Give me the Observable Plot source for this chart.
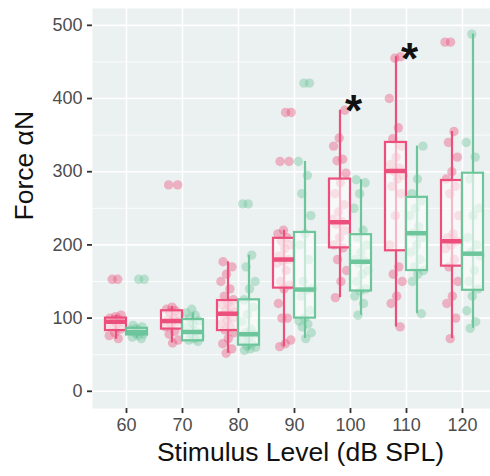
<!DOCTYPE html>
<html><head><meta charset="utf-8">
<script src="https://cdn.jsdelivr.net/npm/d3@7"></script>
<script src="https://cdn.jsdelivr.net/npm/@observablehq/plot@0.6"></script>
<style>body{margin:0;background:#fff;font-family:"Liberation Sans",Arial,sans-serif}</style>
</head><body><div id="chart"></div><script>
const levels = [60, 70, 80, 90, 100, 110, 120];
const yTicks = [0, 100, 200, 300, 400, 500];
const yMinor = [50, 150, 250, 350, 450];
const groupColors = ["#EC4F7B", "#6CC59B"];

// box statistics (group A = pink, group B = green)
const pinkLo  = [71, 66, 52, 61, 128, 88, 72];
const pinkQ1  = [83, 85, 83, 141, 196, 192, 171];
const pinkMed = [95, 96, 106, 180, 231, 301, 205];
const pinkQ3  = [100, 110, 124, 209, 290, 340, 288];
const pinkHi  = [104, 116, 177, 220, 384, 457, 355];

const greenLo  = [72, 69, 56, 72, 104, 106, 86];
const greenQ1  = [77, 69, 63, 100, 137, 165, 138];
const greenMed = [81, 81, 78, 139, 177, 216, 188];
const greenQ3  = [86, 98, 125, 217, 214, 265, 298];
const greenHi  = [89, 107, 186, 314, 289, 335, 488];

// observed points
const pinkPoints = [
  [153, 153, 104, 102, 100, 98, 97, 95, 92, 90, 85, 80, 76, 72],
  [282, 282, 115, 112, 110, 108, 105, 100, 98, 95, 92, 88, 82, 78, 70, 66],
  [177, 170, 160, 150, 140, 130, 125, 120, 118, 115, 110, 108, 106, 104, 100, 96, 92, 88, 84, 80, 72, 65, 58, 52],
  [381, 381, 314, 314, 220, 215, 210, 205, 200, 195, 185, 180, 178, 175, 165, 150, 145, 140, 120, 100, 100, 70, 65, 61],
  [384, 346, 335, 317, 315, 298, 285, 270, 255, 245, 235, 232, 228, 220, 210, 200, 196, 180, 165, 150, 128],
  [457, 455, 400, 360, 345, 335, 320, 310, 305, 300, 295, 290, 280, 270, 240, 200, 170, 160, 150, 130, 120, 88],
  [477, 477, 355, 340, 320, 300, 290, 280, 270, 240, 215, 210, 205, 200, 195, 180, 170, 150, 130, 120, 100, 72]
];
const greenPoints = [
  [153, 153, 90, 88, 86, 84, 82, 80, 78, 76, 74, 72],
  [112, 107, 104, 100, 96, 92, 88, 82, 78, 75, 72, 70, 68],
  [256, 256, 186, 170, 150, 140, 125, 115, 105, 95, 85, 80, 78, 75, 70, 65, 62, 60, 58, 56],
  [421, 421, 314, 295, 270, 240, 215, 200, 180, 150, 140, 138, 130, 110, 100, 96, 92, 88, 80, 72],
  [289, 285, 270, 250, 220, 210, 200, 190, 180, 178, 175, 165, 160, 150, 140, 137, 130, 120, 104],
  [335, 290, 270, 260, 250, 240, 225, 216, 210, 200, 190, 180, 170, 165, 160, 150, 106],
  [488, 340, 320, 290, 250, 240, 210, 200, 190, 185, 165, 150, 140, 130, 110, 95, 86]
];

const starLevels = [100, 110];
const starValues = [382, 453];

// build tables
const dodge = 0.1875, half = 0.1875;
const boxes = [];
levels.forEach((lv, i) => {
  boxes.push({idx: i + 1, g: 0, lo: pinkLo[i], q1: pinkQ1[i], med: pinkMed[i], q3: pinkQ3[i], hi: pinkHi[i]});
  boxes.push({idx: i + 1, g: 1, lo: greenLo[i], q1: greenQ1[i], med: greenMed[i], q3: greenQ3[i], hi: greenHi[i]});
});
boxes.forEach(b => { b.cx = b.idx + (b.g === 0 ? -dodge : dodge); });
const pts = [];
let k = 0;
[pinkPoints, greenPoints].forEach((set, g) => {
  set.forEach((vals, i) => {
    vals.forEach(v => {
      k++;
      const jit = (((k * 0.6180339) % 1) - 0.5) * 0.26;
      pts.push({x: i + 1 + (g === 0 ? -dodge : dodge) + jit, y: v, g});
    });
  });
});
const stars = starLevels.map((lv, j) => ({idx: levels.indexOf(lv) + 1, y: starValues[j]}));

const plot = Plot.plot({
  width: 490, height: 476,
  marginLeft: 92, marginRight: 0, marginTop: 8, marginBottom: 68,
  style: {fontFamily: '"Liberation Sans", Arial, sans-serif', background: "#fff"},
  x: {type: "linear", domain: [0.393, 7.5], axis: null},
  y: {domain: [-23.5, 523], axis: null},
  color: {type: "ordinal", domain: [0, 1], range: groupColors},
  marks: [
    Plot.frame({fill: "#EBF0F0", stroke: "none"}),
    Plot.gridY(yMinor, {stroke: "#fff", strokeOpacity: 1, strokeWidth: 0.8}),
    Plot.gridY(yTicks, {stroke: "#fff", strokeOpacity: 1, strokeWidth: 1.6}),
    Plot.gridX(levels.map((d, i) => i + 1), {stroke: "#fff", strokeOpacity: 1, strokeWidth: 1.6}),
    Plot.axisY(yTicks, {tickSize: 5, tickPadding: 5, fontSize: 18, stroke: "#333", fill: "#4d4d4d", strokeWidth: 1.8, label: null}),
    Plot.axisX(levels.map((d, i) => i + 1), {tickSize: 5, tickPadding: 5, fontSize: 18, stroke: "#333", fill: "#4d4d4d", strokeWidth: 1.8, tickFormat: i => levels[i - 1], label: null}),
    Plot.dot(pts, {x: "x", y: "y", r: 4.7, fill: "g", fillOpacity: 0.4, stroke: "none"}),
    Plot.ruleX(boxes, {x: "cx", y1: "lo", y2: "hi", stroke: "g", strokeWidth: 2.2}),
    Plot.rect(boxes, {x1: d => d.cx - half, x2: d => d.cx + half, y1: "q1", y2: "q3", fill: "#fff", fillOpacity: 0.6, stroke: "g", strokeWidth: 2.2}),
    Plot.ruleY(boxes, {x1: d => d.cx - half, x2: d => d.cx + half, y: "med", stroke: "g", strokeWidth: 4.5}),
    Plot.text(stars, {x: "idx", y: "y", text: () => "*", fontSize: 44, fontWeight: "bold", fill: "#111", dx: 3}),
    Plot.text(["Force αN"], {frameAnchor: "left", dx: -68, dy: 12, rotate: -90, fontSize: 26.5, fill: "#111"}),
    Plot.text(["Stimulus Level (dB SPL)"], {frameAnchor: "bottom", dy: 52, dx: 9, fontSize: 26.5, fill: "#111"})
  ]
});
document.getElementById("chart").appendChild(plot);
</script></body></html>
